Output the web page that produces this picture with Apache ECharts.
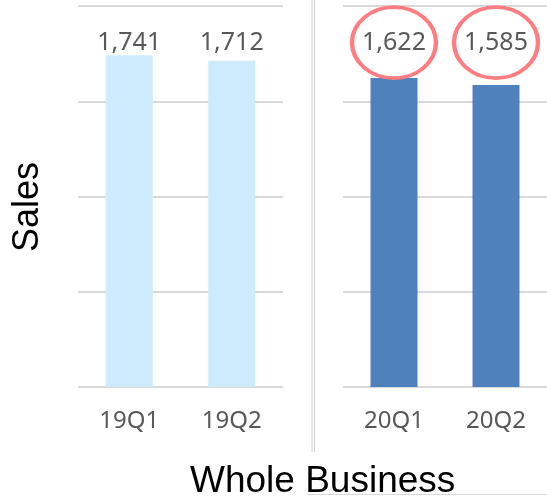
<!DOCTYPE html>
<html>
<head>
<meta charset="utf-8">
<style>
  html, body { margin: 0; padding: 0; background: #fff; }
  #chart { width: 547px; height: 496px; }
</style>
<script src="https://cdn.jsdelivr.net/npm/echarts@6/dist/echarts.min.js"></script>
</head>
<body>
<div id="chart"></div>
<script>
// data
var categories2019 = ['19Q1', '19Q2'];
var sales2019 = [1741, 1712];
var categories2020 = ['20Q1', '20Q2'];
var sales2020 = [1622, 1585];
var yMin = 0, yMax = 2000, yStep = 500;
var labelLevel = 1808;   // value labels all sit on one line, like the original

var chart = echarts.init(document.getElementById('chart'));

function fmt(p) {
	return Number(p.value).toLocaleString('en-US');
}

var gridLine = { show: true, lineStyle: { color: '#d9d9d9', width: 2 } };
var catLabel = { color: '#595959', fontFamily: 'Noto Sans', fontSize: 24, margin: 22 };
var valLabel = { show: true, position: 'inside', color: '#595959', fontFamily: 'Noto Sans', fontSize: 25, formatter: fmt };

// ellipse path, stretched to symbolSize
var ring = 'path://M0,50 A50,50 0 1,1 100,50 A50,50 0 1,1 0,50 Z';

function labelPoints(cats, vals) {
	return cats.map(function (c, i) {
		return { coord: [c, labelLevel], value: vals[i] };
	});
}

var option = {
	animation: false,
	grid: [
		{ left: 78, top: 6, width: 205, height: 381, outerBoundsMode: 'none' },
		{ left: 343, top: 6, width: 204, height: 381, outerBoundsMode: 'none' }
	],
	title: {
		text: 'Whole Business',
		left: 190,
		top: 463,
		padding: 0,
		textStyle: { fontFamily: 'Liberation Sans', fontSize: 37, fontWeight: 'normal', color: '#000' }
	},
	xAxis: [
		{
			type: 'category', gridIndex: 0, data: categories2019,
			axisLine: { show: false }, axisTick: { show: false }, axisLabel: catLabel
		},
		{
			type: 'category', gridIndex: 1, data: categories2020,
			axisLine: { show: false }, axisTick: { show: false }, axisLabel: catLabel
		}
	],
	yAxis: [
		{
			type: 'value', gridIndex: 0, min: yMin, max: yMax, interval: yStep,
			axisLabel: { show: false }, axisLine: { show: false }, axisTick: { show: false },
			splitLine: gridLine
		},
		{
			type: 'value', gridIndex: 1, min: yMin, max: yMax, interval: yStep,
			axisLabel: { show: false }, axisLine: { show: false }, axisTick: { show: false },
			splitLine: gridLine
		}
	],
	series: [
		{
			type: 'bar', xAxisIndex: 0, yAxisIndex: 0,
			data: sales2019, barWidth: 47,
			itemStyle: { color: '#cdebfc' },
			markPoint: {
				symbol: 'circle',
				symbolSize: 1,
				itemStyle: { color: 'rgba(0,0,0,0)' },
				label: valLabel,
				data: labelPoints(categories2019, sales2019)
			}
		},
		{
			type: 'bar', xAxisIndex: 1, yAxisIndex: 1,
			data: sales2020, barWidth: 47,
			itemStyle: { color: '#4f81bd' },
			markPoint: {
				symbol: ring,
				symbolSize: [84, 71],
				label: valLabel,
				itemStyle: { color: 'rgba(0,0,0,0)', borderColor: '#ff7c80', borderWidth: 4 },
				data: labelPoints(categories2020, sales2020)
			}
		}
	],
	graphic: [
		{
			type: 'text', x: 28, y: 207, rotation: Math.PI / 2,
			style: { text: 'Sales', fontFamily: 'Liberation Sans', fontSize: 36, fill: '#000', align: 'center', verticalAlign: 'middle' }
		},
		{ type: 'line', shape: { x1: 312, y1: 0, x2: 312, y2: 452 }, style: { stroke: '#d0d0d0', lineWidth: 1 } },
		{ type: 'line', shape: { x1: 314.5, y1: 0, x2: 314.5, y2: 452 }, style: { stroke: '#d0d0d0', lineWidth: 1 } },
		{ type: 'line', shape: { x1: 307, y1: 494.5, x2: 547, y2: 494.5 }, style: { stroke: '#d9d9d9', lineWidth: 1 } }
	]
};
chart.setOption(option);
</script>
</body>
</html>
